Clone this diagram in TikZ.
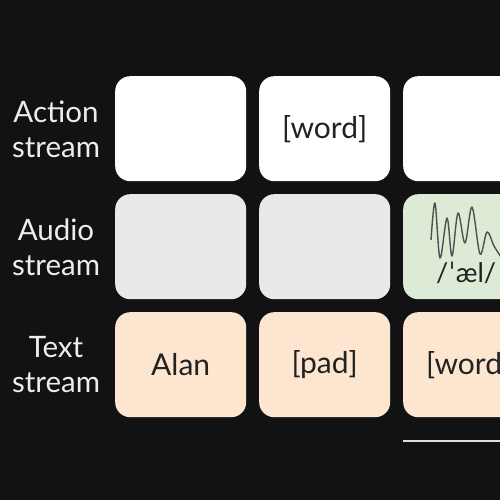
\documentclass[tikz,border=0pt]{standalone}
\usepackage{fontspec}
\setmainfont{Lato}
\newfontfamily\ipafont{DejaVu Sans}
\definecolor{bgc}{HTML}{121212}
\definecolor{graybox}{HTML}{E9E9E9}
\definecolor{greenbox}{HTML}{DCEAD6}
\definecolor{peachbox}{HTML}{FCE6D0}
\definecolor{labtext}{HTML}{EDEDED}
\definecolor{boxtext}{HTML}{222222}
\definecolor{wave}{HTML}{505050}
\definecolor{rulec}{HTML}{E0E0E0}
\begin{document}
\begin{tikzpicture}[x=1pt,y=-1pt,
  cell/.style={rounded corners=15pt, minimum width=131pt, minimum height=105pt, inner sep=0pt, anchor=north west, text=boxtext, font=\fontsize{30}{34}\selectfont},
  lab/.style={text=labtext, align=center, font=\fontsize{29.5}{35}\selectfont}]
\useasboundingbox (0,0) rectangle (500,500);
\clip (0,0) rectangle (500,500);
\fill[bgc] (0,0) rectangle (500,500);
% labels
\node[lab] (la) at (56,129) {Action\\stream};
\node[lab] (lb) at (56,247) {Audio\\stream};
\node[lab] (lc) at (56,365) {Text\\stream};
% row 1
\node[cell, fill=white] (a1) at (115,76) {};
\node[cell, fill=white] (a2) at (259,76) {[word]};
\node[cell, fill=white] (a3) at (403,76) {};
% row 2
\node[cell, fill=graybox] (b1) at (115,194) {};
\node[cell, fill=graybox] (b2) at (259,194) {};
\node[cell, fill=greenbox] (b3) at (403,194) {};
% row 3
\node[cell, fill=peachbox] (c1) at (115,312) {Alan};
\node[cell, fill=peachbox] (c2) at (259,312) {[pad]};
\node[cell, fill=peachbox] (c3) at (403,312) {[word]};
% waveform
\draw[wave, line width=1.4pt, line join=round]
  plot[smooth, tension=0.55] coordinates {
  (431,240) (435,203) (440,258) (447,218) (452,256) (458,213)
  (465,243) (472,207) (480,254) (487,232) (494,246) (501,257)};
\node[anchor=base west, inner sep=0pt, text=boxtext, font=\fontsize{27}{30}\selectfont] (ipa) at (436,282) {/{\ipafont ˈ}æl/};
% timeline
\coordinate (t0) at (403,441);
\coordinate (t1) at (505,441);
\draw[rulec, line width=2.5pt] (t0) -- (t1);
\end{tikzpicture}
\end{document}
